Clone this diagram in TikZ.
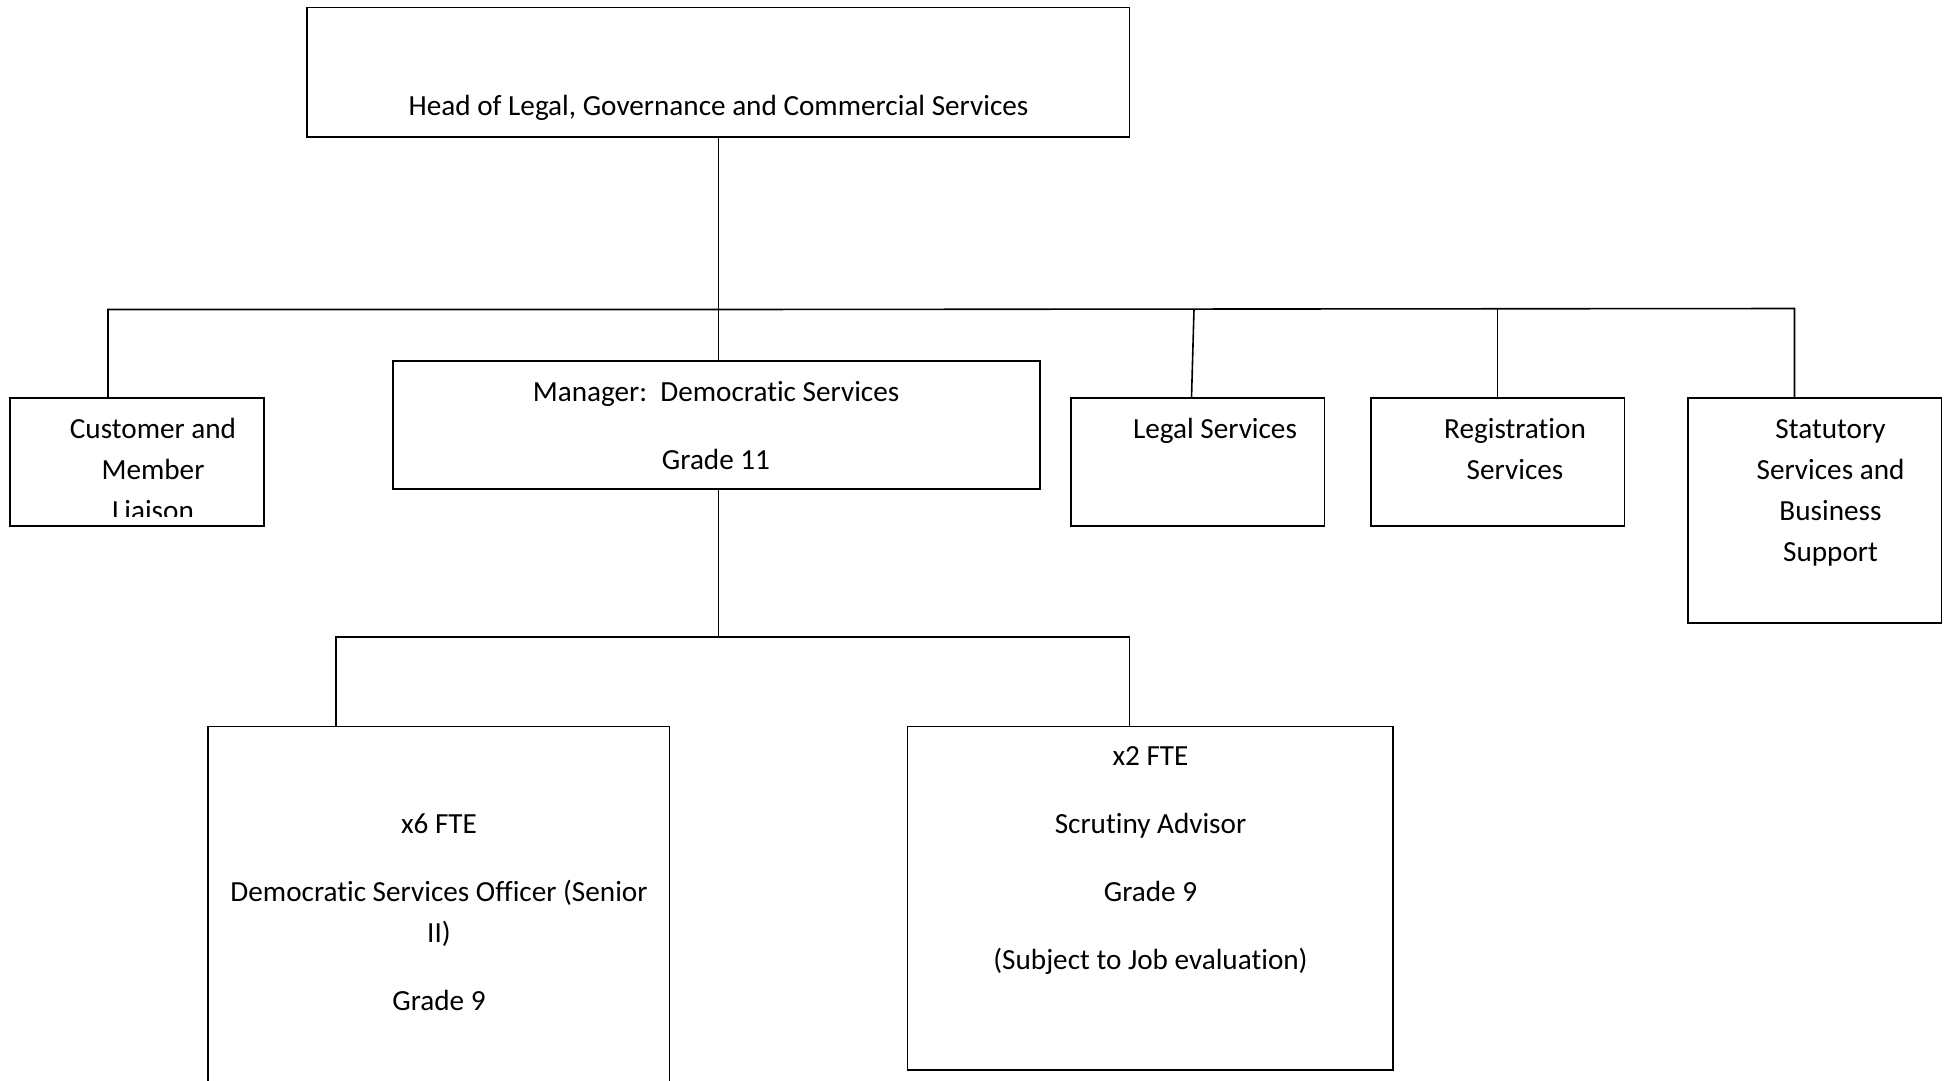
\documentclass[tikz,border=0pt]{standalone}
\usepackage{fontspec}
\setmainfont{Carlito}[Ligatures=NoCommon]
\usetikzlibrary{calc}
\frenchspacing
\tikzset{
  box/.style={draw=black, line width=1.8pt, rectangle, inner sep=0pt},
  conn/.style={draw=black, line width=1.6pt},
  txt/.style={inner sep=0pt, anchor=base, font=\fontsize{29.2pt}{41pt}\selectfont}
}
\begin{document}
\begin{tikzpicture}[x=1pt, y=-1pt]
\clip (0,0) rectangle (1950,1080);
\fill[white] (0,0) rectangle (1950,1080);

% boxes
\node[box, minimum width=822.5pt, minimum height=129.5pt] (head) at (718.25,72.25) {};
\node[box, minimum width=254pt, minimum height=128pt] (cust) at (137,462) {};
\node[box, minimum width=647pt, minimum height=128pt] (mgr) at (716.5,425) {};
\node[box, minimum width=253.5pt, minimum height=128pt] (legal) at (1197.75,462) {};
\node[box, minimum width=253.5pt, minimum height=128pt] (reg) at (1497.75,462) {};
\node[box, minimum width=253.5pt, minimum height=225pt] (stat) at (1814.75,510.5) {};
\node[box, minimum width=461.5pt, minimum height=373.5pt] (dso) at (438.75,913.25) {};
\node[box, minimum width=485.5pt, minimum height=343.5pt] (scr) at (1150.25,898.25) {};

% connector junctions
\coordinate (busL) at (108,309.5);
\coordinate (busM) at (718.5,309.5);
\coordinate (busR) at (1794.5,308.5);
\coordinate (legTop) at (1194,309);
\coordinate (legBot) at (1191.5,398);
\coordinate (regTop) at (1497.5,308.5);
\coordinate (low) at (718.5,637);
\coordinate (lowL) at (336,637);
\coordinate (lowR) at (1129.5,637);

% top-level connectors
\draw[conn] (head.south -| busM) -- (mgr.north -| busM);
\draw[conn] (cust.north -| busL) -- (busL) -- (busM) -- (busR) -- (stat.north -| busR);
\draw[conn] (legTop) -- (legBot);
\draw[conn] (regTop) -- (reg.north -| regTop);
% lower connectors
\draw[conn] (mgr.south -| low) -- (low);
\draw[conn] (dso.north -| lowL) -- (lowL) -- (lowR) -- (scr.north -| lowR);

% texts
\node[txt] (headT) at (718.5,115.5) {Head of Legal, Governance and Commercial Services};
\node[txt] (mgrT1) at (716,401) {Manager:\ \ Democratic Services};
\node[txt] (mgrT2) at (716,469) {Grade 11};
\begin{scope}
\clip (10,398) rectangle (264,516);
\node[txt] (custT1) at (153,438) {Customer and};
\node[txt] (custT2) at (153,479) {Member};
\node[txt] (custT3) at (153,520.5) {Liaison};
\end{scope}
\node[txt] (legalT) at (1215,438.5) {Legal Services};
\node[txt] (regT1) at (1515,438.5) {Registration};
\node[txt] (regT2) at (1515,479.5) {Services};
\node[txt] (statT1) at (1830.5,438) {Statutory};
\node[txt] (statT2) at (1830.5,479) {Services and};
\node[txt] (statT3) at (1830.5,520) {Business};
\node[txt] (statT4) at (1830.5,561) {Support};
\node[txt] (dsoT1) at (439,833.5) {x6 FTE};
\node[txt] (dsoT2) at (439,901.5) {Democratic Services Officer (Senior};
\node[txt] (dsoT3) at (439,942.5) {II)};
\node[txt] (dsoT4) at (439,1010.5) {Grade 9};
\node[txt] (scrT1) at (1150.5,765.5) {x2 FTE};
\node[txt] (scrT2) at (1150.5,833.5) {Scrutiny Advisor};
\node[txt] (scrT3) at (1150.5,901.5) {Grade 9};
\node[txt] (scrT4) at (1150.5,969.5) {(Subject to Job evaluation)};
\end{tikzpicture}
\end{document}
